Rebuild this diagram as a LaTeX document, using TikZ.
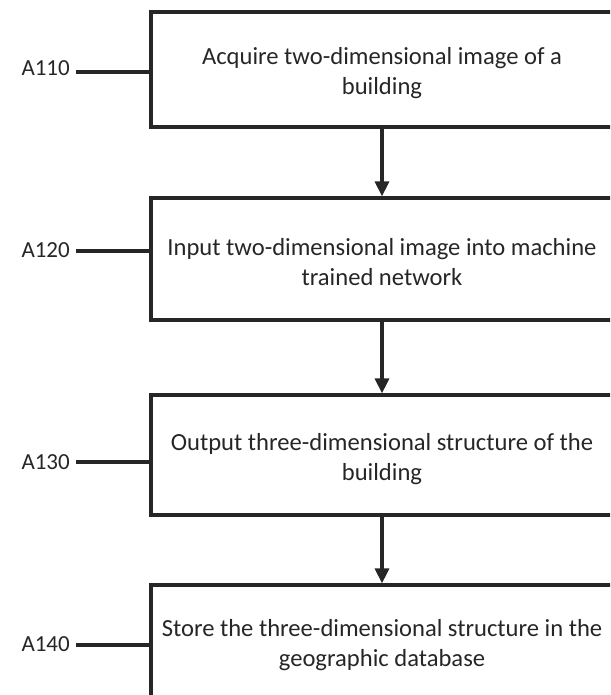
\documentclass[tikz,border=0pt]{standalone}
\usepackage{fontspec}
\setmainfont{Carlito}
\usetikzlibrary{arrows.meta}
\newcommand{\mytxt}[2]{\raisebox{#1}[\height][\depth]{\begin{tabular}{@{}c@{}}#2\end{tabular}}}
\begin{document}
\begin{tikzpicture}[x=1pt,y=-1pt,
  stepbox/.style={draw=black!85,text=black!85,line width=3.2pt,minimum width=462pt,align=center,font=\fontsize{24.6}{30}\selectfont,inner sep=0pt},
  lbl/.style={font=\fontsize{23}{26}\selectfont,text=black!85,anchor=east,inner sep=0pt},
  lead/.style={draw=black!85,line width=3.2pt},
  flow/.style={draw=black!85,line width=3.2pt,-{Triangle[length=15pt,width=14pt]}}]
\useasboundingbox (0,0) rectangle (610,695);
\begin{scope}
\clip (0,0) rectangle (610,695);
\node[stepbox,minimum height=115pt] (b1) at (382,69.5) {\mytxt{-4pt}{Acquire two-dimensional image of a\\ building}};
\node[stepbox,minimum height=122pt] (b2) at (382,259) {\mytxt{-5pt}{Input two-dimensional image into machine\\ trained network}};
\node[stepbox,minimum height=120pt] (b3) at (382,455) {\mytxt{-4pt}{Output three-dimensional structure of the\\ building}};
\node[stepbox,minimum height=120pt] (b4) at (382,645) {\mytxt{0pt}{Store the three-dimensional structure in the\\ geographic database}};
\node[lbl] (l1) at (70,68) {A110};
\node[lbl] (l2) at (70,250) {A120};
\node[lbl] (l3) at (70,462) {A130};
\node[lbl] (l4) at (70,644) {A140};
\coordinate (c1) at (76,72);
\coordinate (c2) at (76,251);
\coordinate (c3) at (76,462);
\coordinate (c4) at (76,645);
\draw[lead] (c1) -- (c1 -| b1.west);
\draw[lead] (c2) -- (c2 -| b2.west);
\draw[lead] (c3) -- (c3 -| b3.west);
\draw[lead] (c4) -- (c4 -| b4.west);
\draw[flow] (b1.south) -- (b2.north);
\draw[flow] (b2.south) -- (b3.north);
\draw[flow] (b3.south) -- (b4.north);
\end{scope}
\end{tikzpicture}
\end{document}
